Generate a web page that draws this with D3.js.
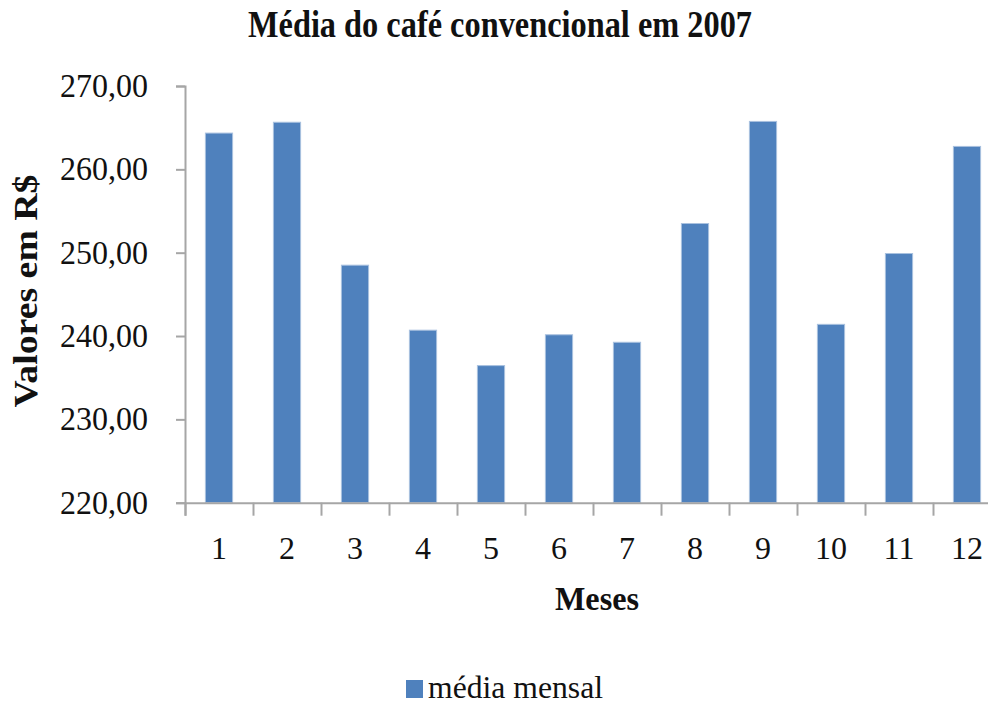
<!DOCTYPE html>
<html>
<head>
<meta charset="utf-8">
<script src="https://cdn.jsdelivr.net/npm/d3@7"></script>
<style>
  html, body { margin: 0; padding: 0; background: #fff; overflow: hidden; }
  svg { display: block; }
  text { font-family: "Liberation Serif", "Times New Roman", serif; fill: #111; }
</style>
</head>
<body>
<svg id="chart" width="988" height="704"></svg>
<script>
// Monthly averages of conventional coffee, 2007 (R$)
const months = ["1", "2", "3", "4", "5", "6", "7", "8", "9", "10", "11", "12"];
const mediaMensal = [264.35, 265.65, 248.5, 240.7, 236.45, 240.15, 239.25, 253.5, 265.75, 241.4, 249.9, 262.75];
const yTicks = [220, 230, 240, 250, 260, 270];
const titleText = "Média do café convencional em 2007";
const yLabel = "Valores em R$";
const xLabel = "Meses";
const seriesName = "média mensal";

const svg = d3.select("#chart");
const barColor = "#4F81BD";
const axisColor = "#A6A6A6";

const plotLeft = 185, plotTop = 86, plotBottom = 502.7, step = 68;

const x = d3.scaleBand()
  .domain(months)
  .range([plotLeft, plotLeft + step * months.length])
  .paddingInner(0.6)
  .paddingOuter(0.3);

// boundary scale for the category separator ticks
const xEdge = d3.scaleLinear().domain([0, months.length]).range([plotLeft, plotLeft + step * months.length]);

const y = d3.scaleLinear().domain([220, 270]).range([plotBottom, plotTop]);

const ptBR = d3.formatLocale({ decimal: ",", thousands: ".", grouping: [3], currency: ["R$", ""] });
const fmt = ptBR.format(".2f");

// bars
svg.append("g")
  .selectAll("rect")
  .data(mediaMensal)
  .join("rect")
  .attr("x", (d, i) => x(months[i]))
  .attr("y", d => y(d))
  .attr("width", x.bandwidth())
  .attr("height", d => y(220) - y(d))
  .attr("fill", barColor)
  .attr("stroke", "#A9C1DF")
  .attr("stroke-width", 1);

// y axis
const yAxis = svg.append("g")
  .attr("transform", `translate(${plotLeft},0)`)
  .call(d3.axisLeft(y).tickValues(yTicks).tickSize(9).tickPadding(28).tickFormat(fmt));
yAxis.select(".domain").attr("stroke", axisColor).attr("stroke-width", 2);
yAxis.selectAll(".tick line").attr("stroke", axisColor).attr("stroke-width", 2);
yAxis.selectAll(".tick text")
  .attr("font-family", "Liberation Serif, serif")
  .attr("font-size", 33)
  .attr("fill", "#1a1a1a")
  .attr("textLength", 88)
  .attr("lengthAdjust", "spacingAndGlyphs");

// x axis separator ticks
const xTickAxis = svg.append("g")
  .attr("transform", `translate(0,${plotBottom})`)
  .call(d3.axisBottom(xEdge).tickValues(d3.range(0, months.length + 1)).tickSize(13).tickFormat(""));
xTickAxis.select(".domain").attr("stroke", axisColor).attr("stroke-width", 2);
xTickAxis.selectAll(".tick line").attr("stroke", axisColor).attr("stroke-width", 2);

// x axis category labels
const xAxis = svg.append("g")
  .attr("transform", `translate(0,${plotBottom})`)
  .call(d3.axisBottom(x).tickSize(0).tickPadding(34));
xAxis.select(".domain").remove();
xAxis.selectAll(".tick text")
  .attr("font-family", "Liberation Serif, serif")
  .attr("font-size", 32)
  .attr("fill", "#111");

// title
svg.append("text")
  .attr("x", 500).attr("y", 37)
  .attr("text-anchor", "middle")
  .attr("font-size", 37)
  .attr("font-weight", "bold")
  .attr("textLength", 504)
  .attr("lengthAdjust", "spacingAndGlyphs")
  .text(titleText);

// y axis title
svg.append("text")
  .attr("transform", "translate(37,291) rotate(-90)")
  .attr("text-anchor", "middle")
  .attr("font-size", 34)
  .attr("font-weight", "bold")
  .attr("textLength", 233)
  .attr("lengthAdjust", "spacingAndGlyphs")
  .text(yLabel);

// x axis title
svg.append("text")
  .attr("x", 597).attr("y", 610)
  .attr("text-anchor", "middle")
  .attr("font-size", 34)
  .attr("font-weight", "bold")
  .attr("textLength", 84)
  .attr("lengthAdjust", "spacingAndGlyphs")
  .text(xLabel);

// legend
const legend = svg.append("g");
legend.append("rect")
  .attr("x", 406).attr("y", 680)
  .attr("width", 17).attr("height", 18)
  .attr("fill", barColor);
legend.append("text")
  .attr("x", 428).attr("y", 698)
  .attr("font-size", 32)
  .attr("textLength", 175)
  .attr("lengthAdjust", "spacingAndGlyphs")
  .text(seriesName);
</script>
</body>
</html>
